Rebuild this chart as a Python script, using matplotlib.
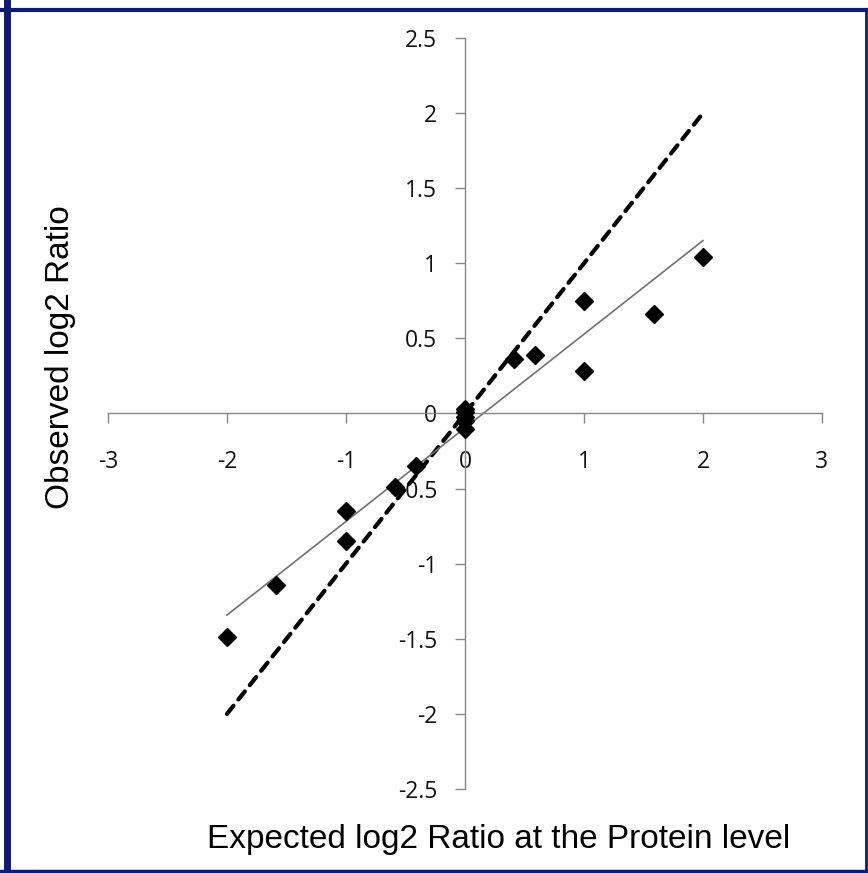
import numpy as np
import matplotlib
matplotlib.use('Agg')
import matplotlib.pyplot as plt
from matplotlib.lines import Line2D

plt.rcParams['axes.unicode_minus'] = False

# expected vs observed log2 ratios
expected = [-2, -1.585, -1, -1, -0.585, -0.415, 0, 0, 0, 0, 0,
            0.415, 0.585, 1, 1, 1.585, 2]
observed = [-1.49, -1.14, -0.65, -0.85, -0.49, -0.35, 0.03, 0.01, -0.02, -0.05, -0.10,
            0.36, 0.39, 0.75, 0.28, 0.66, 1.04]
ideal_x = [-2, 2]

xticks = [-3, -2, -1, 0, 1, 2, 3]
yticks = [-2.5, -2, -1.5, -1, -0.5, 0, 0.5, 1, 1.5, 2, 2.5]
ytick_labels = ['-2.5', '-2', '-1.5', '-1', '-0.5', '0', '0.5', '1', '1.5', '2', '2.5']

fig = plt.figure(figsize=(8.68, 8.73), dpi=100)
ax = fig.add_axes([0.1244, 0.0962, 0.8226, 0.8603])

# y = x reference
ax.plot(ideal_x, ideal_x, color='black', lw=3.0, ls=(0, (2.5, 1.9)),
        dash_capstyle='round', zorder=2)

# linear trend
slope, icpt = np.polyfit(expected, observed, 1)
tx = np.array([min(expected), max(expected)])
ax.plot(tx, slope * tx + icpt, color='#707070', lw=1.2, zorder=2)

ax.plot(expected, observed, ls='none', marker='D', ms=9.5, color='black', zorder=3)

ax.set_xlim(-3, 3)
ax.set_ylim(-2.5, 2.5)
ax.set_xticks(xticks)
ax.set_xticklabels([str(t) for t in xticks])
ax.set_yticks(yticks)
ax.set_yticklabels(ytick_labels)

for s in ['top', 'right']:
    ax.spines[s].set_visible(False)
ax.spines['left'].set_position(('data', 0))
ax.spines['bottom'].set_position(('data', 0))
for s in ['left', 'bottom']:
    ax.spines[s].set_color('#868686')
    ax.spines[s].set_linewidth(1.0)

ax.tick_params(axis='x', direction='out', length=7, width=1, color='#868686',
               pad=19, labelsize=16.5, labelcolor='#111111')
ax.tick_params(axis='y', direction='out', length=7, width=1, color='#868686',
               pad=13, labelsize=16.5, labelcolor='#111111')
for lab in ax.get_xticklabels() + ax.get_yticklabels():
    lab.set_family('Open Sans')

fig.text(0.575, 0.038, 'Expected log2 Ratio at the Protein level',
         ha='center', va='center', fontsize=24, family='Liberation Sans')
fig.text(0.070, 0.591, 'Observed log2 Ratio', rotation=90,
         ha='center', va='center', fontsize=24, family='Liberation Sans')

# dark blue frame
navy = '#0d1a7a'
fig.add_artist(Line2D([6.5 / 868, 6.5 / 868], [0, 1], transform=fig.transFigure,
                      color=navy, lw=5))
fig.add_artist(Line2D([0, 1], [863 / 873, 863 / 873], transform=fig.transFigure,
                      color=navy, lw=3))
fig.add_artist(Line2D([0, 1], [2 / 873, 2 / 873], transform=fig.transFigure,
                      color=navy, lw=2.5))
fig.add_artist(Line2D([866 / 868, 866 / 868], [0, 863 / 873], transform=fig.transFigure,
                      color=navy, lw=2))

fig.savefig('out.png', dpi=100)
